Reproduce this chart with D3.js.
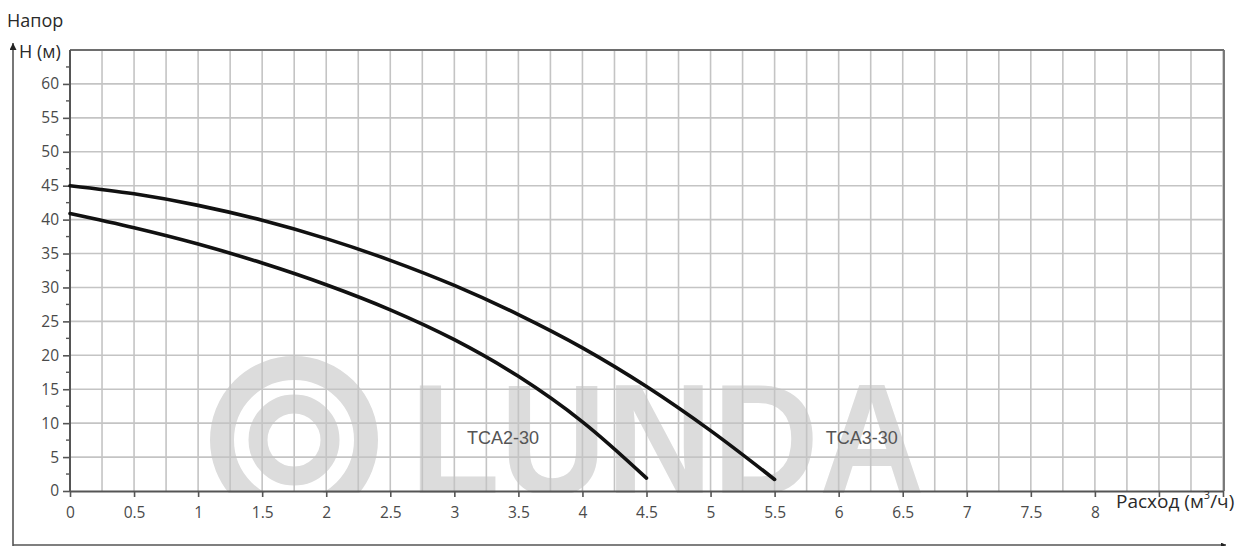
<!DOCTYPE html>
<html><head><meta charset="utf-8">
<script src="https://cdn.jsdelivr.net/npm/d3@7"></script>
<style>html,body{margin:0;padding:0;background:#fff;}</style>
</head><body>
<svg id="c" width="1248" height="546"></svg>
<script>
const xTicks = [0,0.5,1,1.5,2,2.5,3,3.5,4,4.5,5,5.5,6,6.5,7,7.5,8];
const yTicks = [0,5,10,15,20,25,30,35,40,45,50,55,60];
const flowTCA2 = [0,0.5,1,1.5,2,2.5,3,3.5,4,4.5];
const headTCA2 = [40.9,38.8,36.4,33.6,30.4,26.7,22.3,16.9,10.2,1.9];
const flowTCA3 = [0,0.5,1,1.5,2,2.5,3,3.5,4,4.5,5,5.5];
const headTCA3 = [45.0,43.8,42.1,39.9,37.2,34.0,30.3,26.0,21.1,15.4,8.9,1.7];
const seriesNames = ["TCA2-30","TCA3-30"];
const labelPos = [[3.38,7.6],[6.18,7.6]];

const svg = d3.select("#c");
const x = d3.scaleLinear().domain([0,9]).range([70,1223]);
const y = d3.scaleLinear().domain([0,65]).range([491,50]);

// watermark
svg.append("clipPath").attr("id","pc").append("rect").attr("x",0).attr("y",0).attr("width",1248).attr("height",493);
const wm = svg.append("g").attr("clip-path","url(#pc)");
wm.append("circle").attr("cx",294).attr("cy",440).attr("r",72).attr("fill","none").attr("stroke","#dcdcdc").attr("stroke-width",24);
wm.append("circle").attr("cx",294).attr("cy",440).attr("r",36).attr("fill","none").attr("stroke","#dcdcdc").attr("stroke-width",19);
wm.append("text").attr("x",410).attr("y",494).attr("font-family","Liberation Sans, Arial, sans-serif").attr("font-weight","bold")
  .attr("font-size",158).attr("fill","#dcdcdc").attr("textLength",515).attr("lengthAdjust","spacingAndGlyphs").text("LUNDA");

// grid
const g = svg.append("g");
const vlines = d3.range(0.25, 9.0001, 0.25);
g.selectAll("line.v").data(vlines).join("line")
  .attr("x1",d=>x(d)).attr("x2",d=>x(d)).attr("y1",y(0)).attr("y2",y(65))
  .attr("stroke","#c4c4c4").attr("stroke-width",1.6);
g.selectAll("line.h").data(d3.range(5,65,5)).join("line")
  .attr("x1",x(0)).attr("x2",x(9)).attr("y1",d=>y(d)).attr("y2",d=>y(d))
  .attr("stroke","#c4c4c4").attr("stroke-width",1.6);
g.append("line").attr("x1",x(0)).attr("x2",x(9)+1).attr("y1",y(65)).attr("y2",y(65)).attr("stroke","#6e6e6e").attr("stroke-width",1.8);
g.append("line").attr("x1",x(9)+1).attr("x2",x(9)+1).attr("y1",y(65)).attr("y2",y(0)).attr("stroke","#6e6e6e").attr("stroke-width",1.8);

// axes
const tf = "Open Sans, sans-serif";
const xAxis = d3.axisBottom(x).tickValues(xTicks.concat([8.5,9])).tickSize(6).tickSizeOuter(0)
  .tickFormat(d=> xTicks.includes(d) ? d3.format("")(d) : "");
const xa = svg.append("g").attr("transform",`translate(0,${y(0)})`).call(xAxis);
xa.select(".domain").attr("stroke","#555").attr("stroke-width",2);
xa.selectAll(".tick line").attr("stroke","#555").attr("stroke-width",1.6);
xa.selectAll(".tick text").attr("font-family",tf).attr("font-size",15.5).attr("fill","#4a4a4a").attr("dy","1.15em");

const yAxis = d3.axisLeft(y).tickValues(yTicks).tickSize(7).tickSizeOuter(0).tickPadding(4);
const ya = svg.append("g").attr("transform",`translate(${x(0)},0)`).call(yAxis);
ya.select(".domain").attr("stroke","#555").attr("stroke-width",2).attr("d",`M0,${y(0)}V${y(65)}`);
ya.selectAll(".tick line").attr("stroke","#555").attr("stroke-width",1.6);
ya.selectAll(".tick text").attr("font-family",tf).attr("font-size",15.5).attr("fill","#4a4a4a");
ya.selectAll("line.minor").data(d3.range(2.5,65,5)).join("line").attr("class","minor")
  .attr("x1",-4).attr("x2",0).attr("y1",d=>y(d)).attr("y2",d=>y(d)).attr("stroke","#555").attr("stroke-width",1.4);

// curves
const line = d3.line().x(d=>x(d[0])).y(d=>y(d[1])).curve(d3.curveCatmullRom.alpha(0.5));
const data = [d3.zip(flowTCA2, headTCA2), d3.zip(flowTCA3, headTCA3)];
svg.selectAll("path.curve").data(data).join("path").attr("class","curve")
  .attr("d",line).attr("fill","none").attr("stroke","#111").attr("stroke-width",3.6).attr("stroke-linecap","round");
svg.selectAll("text.lbl").data(seriesNames).join("text").attr("class","lbl")
  .attr("x",(d,i)=>x(labelPos[i][0])).attr("y",(d,i)=>y(labelPos[i][1]))
  .attr("text-anchor","middle").attr("dominant-baseline","middle")
  .attr("font-family","Liberation Sans, Arial, sans-serif").attr("font-size",18).attr("fill","#555").text(d=>d);

// arrows
const defs = svg.append("defs");
defs.append("marker").attr("id","ah").attr("viewBox","0 0 10 10").attr("refX",10).attr("refY",5)
  .attr("markerWidth",16).attr("markerHeight",7).attr("markerUnits","userSpaceOnUse").attr("orient","auto")
  .append("path").attr("d","M0,0L10,5L0,10z").attr("fill","#222");
defs.append("marker").attr("id","ah2").attr("viewBox","0 0 10 10").attr("refX",10).attr("refY",5)
  .attr("markerWidth",18).attr("markerHeight",5).attr("markerUnits","userSpaceOnUse").attr("orient","auto")
  .append("path").attr("d","M0,0L10,5L0,10z").attr("fill","#222");
svg.append("line").attr("x1",13).attr("y1",546).attr("x2",13).attr("y2",43).attr("stroke","#555").attr("stroke-width",1.6).attr("marker-end","url(#ah)");
svg.append("line").attr("x1",13).attr("y1",545).attr("x2",1226).attr("y2",545).attr("stroke","#555").attr("stroke-width",1.6).attr("marker-end","url(#ah2)");

// axis titles
svg.append("text").attr("x",7).attr("y",27).attr("font-family",tf).attr("font-size",18).attr("fill","#2a2a2a").text("Напор");
svg.append("text").attr("x",19).attr("y",58).attr("font-family",tf).attr("font-size",18).attr("fill","#2a2a2a").text("H (м)");
const xt = svg.append("text").attr("x",1116).attr("y",508).attr("font-family",tf).attr("font-size",19).attr("fill","#2a2a2a");
xt.append("tspan").text("Расход (м");
xt.append("tspan").attr("font-size",11).attr("dy",-9).text("3");
xt.append("tspan").attr("dy",9).text("/ч)");
</script>
</body></html>
